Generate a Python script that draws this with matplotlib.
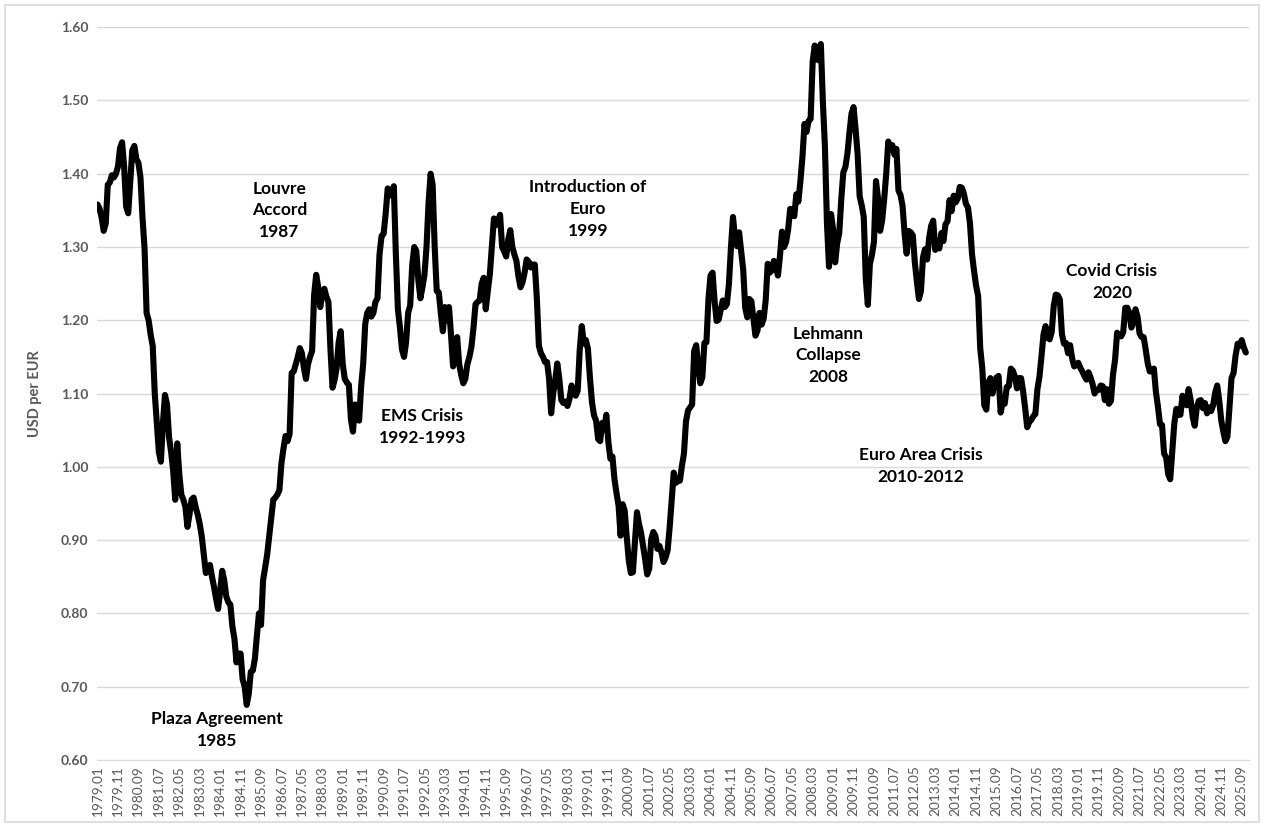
import numpy as np
import matplotlib
matplotlib.use("Agg")
import matplotlib.pyplot as plt
from matplotlib.patches import Rectangle

plt.rcParams["font.family"] = ["Lato", "DejaVu Sans"]

# monthly USD per EUR (synthetic euro before 1999)
rates_1979_1983 = [
    1.358, 1.352, 1.340, 1.322, 1.332, 1.385, 1.388, 1.398, 1.395, 1.400, 1.410, 1.435,
    1.443, 1.410, 1.355, 1.346, 1.390, 1.432, 1.438, 1.420, 1.415, 1.395, 1.340, 1.298,
    1.210, 1.200, 1.180, 1.165, 1.100, 1.060, 1.020, 1.007, 1.060, 1.098, 1.085, 1.040,
    1.020, 0.995, 0.955, 1.032, 0.990, 0.962, 0.955, 0.945, 0.918, 0.935, 0.955, 0.958,
    0.945, 0.935, 0.922, 0.905, 0.880, 0.855, 0.860, 0.866, 0.850, 0.836, 0.820, 0.806,
]
rates_1984_1988 = [
    0.830, 0.858, 0.845, 0.823, 0.815, 0.812, 0.782, 0.765, 0.733, 0.745, 0.745, 0.710,
    0.700, 0.675, 0.690, 0.720, 0.722, 0.738, 0.770, 0.800, 0.784, 0.845, 0.862, 0.880,
    0.905, 0.930, 0.955, 0.958, 0.962, 0.968, 1.005, 1.025, 1.042, 1.035, 1.045, 1.128,
    1.130, 1.140, 1.150, 1.162, 1.155, 1.135, 1.120, 1.140, 1.150, 1.158, 1.235, 1.262,
    1.245, 1.218, 1.238, 1.243, 1.232, 1.225, 1.160, 1.108, 1.118, 1.135, 1.170, 1.185,
]
rates_1989_1993 = [
    1.140, 1.120, 1.115, 1.112, 1.065, 1.048, 1.085, 1.070, 1.063, 1.110, 1.140, 1.195,
    1.210, 1.215, 1.205, 1.210, 1.225, 1.230, 1.290, 1.315, 1.318, 1.345, 1.380, 1.375,
    1.370, 1.383, 1.290, 1.215, 1.190, 1.160, 1.150, 1.170, 1.210, 1.220, 1.275, 1.300,
    1.295, 1.255, 1.230, 1.245, 1.262, 1.300, 1.360, 1.400, 1.385, 1.300, 1.240, 1.238,
    1.210, 1.185, 1.218, 1.200, 1.218, 1.180, 1.137, 1.150, 1.177, 1.140, 1.125, 1.114,
]
rates_1994_1998 = [
    1.120, 1.140, 1.150, 1.164, 1.190, 1.222, 1.225, 1.227, 1.250, 1.258, 1.215, 1.240,
    1.263, 1.300, 1.339, 1.330, 1.335, 1.344, 1.300, 1.294, 1.287, 1.310, 1.323, 1.300,
    1.290, 1.281, 1.260, 1.245, 1.252, 1.265, 1.283, 1.280, 1.272, 1.276, 1.276, 1.230,
    1.165, 1.155, 1.150, 1.143, 1.143, 1.120, 1.073, 1.100, 1.118, 1.141, 1.120, 1.091,
    1.087, 1.089, 1.083, 1.093, 1.111, 1.100, 1.097, 1.104, 1.160, 1.192, 1.168, 1.173,
]
rates_1999_2003 = [
    1.161, 1.121, 1.088, 1.070, 1.063, 1.038, 1.035, 1.060, 1.050, 1.071, 1.034, 1.011,
    1.014, 0.983, 0.964, 0.947, 0.906, 0.949, 0.940, 0.904, 0.872, 0.855, 0.856, 0.897,
    0.938, 0.922, 0.910, 0.892, 0.874, 0.853, 0.861, 0.901, 0.911, 0.906, 0.888, 0.892,
    0.883, 0.870, 0.876, 0.886, 0.917, 0.955, 0.992, 0.978, 0.981, 0.981, 1.001, 1.018,
    1.062, 1.077, 1.081, 1.085, 1.158, 1.166, 1.137, 1.114, 1.122, 1.169, 1.170, 1.229,
]
rates_2004_2008 = [
    1.261, 1.265, 1.226, 1.199, 1.201, 1.214, 1.227, 1.218, 1.222, 1.249, 1.299, 1.341,
    1.312, 1.301, 1.320, 1.294, 1.269, 1.217, 1.204, 1.229, 1.226, 1.202, 1.179, 1.186,
    1.210, 1.194, 1.202, 1.227, 1.277, 1.265, 1.268, 1.281, 1.273, 1.261, 1.288, 1.321,
    1.300, 1.307, 1.324, 1.352, 1.351, 1.342, 1.372, 1.362, 1.390, 1.423, 1.468, 1.457,
    1.472, 1.475, 1.553, 1.575, 1.556, 1.555, 1.577, 1.498, 1.437, 1.332, 1.273, 1.345,
]
rates_2009_2013 = [
    1.324, 1.279, 1.305, 1.319, 1.365, 1.402, 1.409, 1.427, 1.456, 1.482, 1.491, 1.461,
    1.427, 1.369, 1.357, 1.341, 1.257, 1.221, 1.277, 1.289, 1.307, 1.390, 1.366, 1.322,
    1.336, 1.365, 1.400, 1.444, 1.435, 1.439, 1.426, 1.434, 1.377, 1.371, 1.356, 1.318,
    1.291, 1.322, 1.320, 1.316, 1.279, 1.253, 1.229, 1.240, 1.286, 1.297, 1.283, 1.312,
    1.329, 1.336, 1.296, 1.303, 1.298, 1.319, 1.308, 1.331, 1.335, 1.364, 1.349, 1.370,
]
rates_2014_2018 = [
    1.361, 1.366, 1.382, 1.381, 1.373, 1.359, 1.354, 1.332, 1.290, 1.267, 1.247, 1.233,
    1.162, 1.135, 1.084, 1.078, 1.115, 1.121, 1.100, 1.114, 1.122, 1.124, 1.074, 1.088,
    1.086, 1.109, 1.110, 1.134, 1.131, 1.123, 1.107, 1.121, 1.121, 1.103, 1.080, 1.054,
    1.061, 1.064, 1.069, 1.072, 1.106, 1.123, 1.151, 1.181, 1.192, 1.176, 1.174, 1.184,
    1.220, 1.235, 1.234, 1.228, 1.181, 1.168, 1.169, 1.155, 1.166, 1.148, 1.137, 1.139,
]
rates_2019_2025 = [
    1.142, 1.135, 1.130, 1.124, 1.119, 1.129, 1.122, 1.113, 1.100, 1.105, 1.105, 1.111,
    1.110, 1.091, 1.106, 1.086, 1.090, 1.126, 1.146, 1.183, 1.179, 1.178, 1.184, 1.217,
    1.217, 1.210, 1.190, 1.198, 1.215, 1.205, 1.182, 1.177, 1.177, 1.160, 1.141, 1.130,
    1.131, 1.134, 1.102, 1.082, 1.058, 1.057, 1.018, 1.013, 0.990, 0.983, 1.020, 1.059,
    1.079, 1.071, 1.071, 1.097, 1.087, 1.084, 1.106, 1.091, 1.068, 1.056, 1.081, 1.090,
    1.091, 1.080, 1.087, 1.073, 1.081, 1.076, 1.084, 1.101, 1.111, 1.090, 1.063, 1.048,
    1.035, 1.041, 1.081, 1.121, 1.128, 1.152, 1.168, 1.165, 1.173, 1.163, 1.156,
]

first_year = 1979
tick_every = 10
y_ticks = [0.60, 0.70, 0.80, 0.90, 1.00, 1.10, 1.20, 1.30, 1.40, 1.50, 1.60]

# (label, month index, value) for the event notes
events = [
    ("Plaza Agreement\n1985", 58.5, 0.641),
    ("Louvre\nAccord\n1987", 89.0, 1.350),
    ("EMS Crisis\n1992-1993", 159.0, 1.054),
    ("Introduction of\nEuro\n1999", 240.0, 1.352),
    ("Lehmann\nCollapse\n2008", 357.5, 1.152),
    ("Euro Area Crisis\n2010-2012", 403.0, 1.001),
    ("Covid Crisis\n2020", 496.5, 1.252),
]

rates = (rates_1979_1983 + rates_1984_1988 + rates_1989_1993 + rates_1994_1998
         + rates_1999_2003 + rates_2004_2008 + rates_2009_2013 + rates_2014_2018
         + rates_2019_2025)
months = np.arange(len(rates))
labels = [f"{first_year + m // 12}.{m % 12 + 1:02d}" for m in months]

GREY = "#595959"

fig = plt.figure(figsize=(12.64, 8.25), dpi=100)
ax = fig.add_axes([0.0767, 0.079, 0.9115, 0.888])

ax.plot(months, rates, color="black", lw=4.4, solid_joinstyle="round",
        solid_capstyle="round", zorder=3)

ax.set_ylim(0.60, 1.60)
ax.set_yticks(y_ticks)
ax.set_yticklabels([f"{v:.2f}" for v in y_ticks], fontsize=10, fontweight="bold", color=GREY)
ax.set_xlim(-0.3, 563.6)
tick_pos = months[::tick_every]
ax.set_xticks(tick_pos)
ax.set_xticklabels([labels[i] for i in tick_pos], rotation=90, fontsize=9.8, color=GREY)
ax.tick_params(length=0, pad=6)
ax.tick_params(axis="x", pad=4)

ax.grid(axis="y", color="#d9d9d9", lw=1)
ax.set_axisbelow(True)
for side in ["top", "right", "left"]:
    ax.spines[side].set_visible(False)
ax.spines["bottom"].set_color("#d9d9d9")

ax.set_ylabel("USD per EUR", fontsize=10.5, fontweight="bold", color=GREY, labelpad=14)

for text, mx, my in events:
    ax.text(mx, my, text, ha="center", va="center", fontsize=12.5,
            fontweight="bold", linespacing=1.45, color="black")

# light chart-area frame like the spreadsheet export
fig.patches.append(Rectangle((0.004, 0.004), 0.992, 0.99, transform=fig.transFigure,
                             fill=False, edgecolor="#d9d9d9", lw=1.2))

fig.savefig("out.png", dpi=100)
